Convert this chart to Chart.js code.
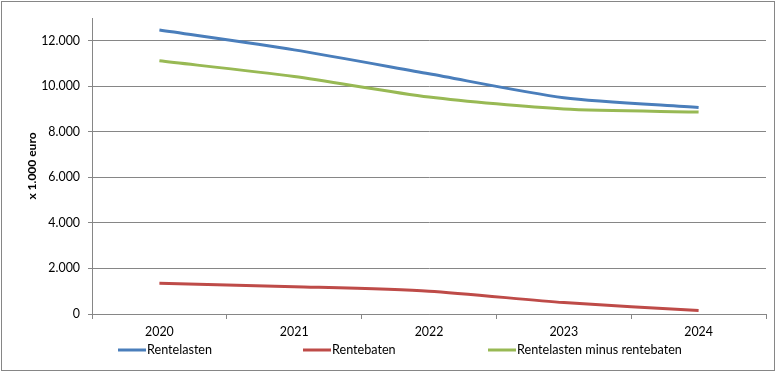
<!DOCTYPE html>
<html>
<head>
<meta charset="utf-8">
<script src="https://cdn.jsdelivr.net/npm/chart.js@4.4.0/dist/chart.umd.min.js"></script>
<style>
html,body{margin:0;padding:0;background:#fff;}
#wrap{width:776px;height:372px;position:relative;}
</style>
</head>
<body>
<div id="wrap"><canvas id="c" width="776" height="372"></canvas></div>
<script>
const categories = ['2020', '2021', '2022', '2023', '2024'];
const rentelasten = [12470, 11600, 10550, 9500, 9070];
const rentebaten = [1350, 1200, 1000, 500, 150];
const rentelastenMinusRentebaten = [11120, 10430, 9530, 9000, 8870];
const seriesLabels = ['Rentelasten', 'Rentebaten', 'Rentelasten minus rentebaten'];
const seriesColors = ['#4A7EBB', '#BE4B48', '#98B954'];
const yTickValues = [0, 2000, 4000, 6000, 8000, 10000, 12000];
const yAxisTitle = 'x 1.000 euro';

const FONT = 'Lato, "Open Sans", "Liberation Sans", sans-serif';
const GRID = '#868686';

function fmt(v) {
  return String(v).replace(/\B(?=(\d{3})+(?!\d))/g, '.');
}

const frame = {
  id: 'frame',
  beforeDraw(chart) {
    const ctx = chart.ctx;
    ctx.save();
    ctx.fillStyle = '#fff';
    ctx.fillRect(0, 0, chart.width, chart.height);
    ctx.restore();
  },
  afterDraw(chart) {
    const ctx = chart.ctx;
    ctx.save();
    ctx.strokeStyle = GRID;
    ctx.lineWidth = 1;
    ctx.strokeRect(1.5, 1.5, chart.width - 3, chart.height - 3);
    // legend
    const y = 350;
    const startX = 118, colW = 185, lineLen = 28;
    ctx.font = '12.6px ' + FONT;
    ctx.textBaseline = 'middle';
    ctx.textAlign = 'left';
    chart.data.datasets.forEach((ds, i) => {
      const x0 = startX + i * colW;
      ctx.strokeStyle = ds.borderColor;
      ctx.lineWidth = 3;
      ctx.beginPath();
      ctx.moveTo(x0, y);
      ctx.lineTo(x0 + lineLen, y);
      ctx.stroke();
      ctx.fillStyle = '#000';
      ctx.fillText(ds.label, x0 + lineLen + 1, y);
    });
    ctx.restore();
  }
};

const seriesData = [rentelasten, rentebaten, rentelastenMinusRentebaten];

new Chart(document.getElementById('c'), {
  type: 'line',
  data: {
    labels: categories,
    datasets: seriesData.map((d, i) => ({
      label: seriesLabels[i],
      data: d,
      borderColor: seriesColors[i],
      backgroundColor: seriesColors[i],
      borderWidth: 3,
      pointRadius: 0,
      tension: 0.25,
      fill: false
    }))
  },
  options: {
    responsive: false,
    animation: false,
    devicePixelRatio: 1,
    layout: { padding: { left: 0, right: 10, top: 18, bottom: 0 } },
    plugins: {
      legend: { display: false },
      tooltip: { enabled: false },
      title: { display: false }
    },
    scales: {
      x: {
        offset: true,
        grid: {
          offset: true,
          drawOnChartArea: false,
          drawTicks: true,
          tickLength: 5,
          color: GRID
        },
        border: { color: GRID, width: 1 },
        ticks: {
          color: '#000',
          font: { family: FONT, size: 12.4 },
          padding: 6,
          maxRotation: 0
        },
        afterFit(scale) { scale.height = 58; }
      },
      y: {
        min: 0,
        max: 13000,
        ticks: {
          stepSize: 2000,
          color: '#000',
          font: { family: FONT, size: 12.4 },
          padding: 8,
          callback: (v) => fmt(v)
        },
        afterBuildTicks(scale) {
          scale.ticks = yTickValues.map(v => ({ value: v }));
        },
        grid: {
          color: GRID,
          tickLength: 4,
          drawTicks: true
        },
        border: { color: GRID, width: 1 },
        title: {
          display: true,
          text: yAxisTitle,
          color: '#000',
          font: { family: FONT, size: 12, weight: 'bold' },
          padding: { top: 25, bottom: 0 }
        },
        afterFit(scale) { scale.width = 92; }
      }
    }
  },
  plugins: [frame]
});
</script>
</body>
</html>
